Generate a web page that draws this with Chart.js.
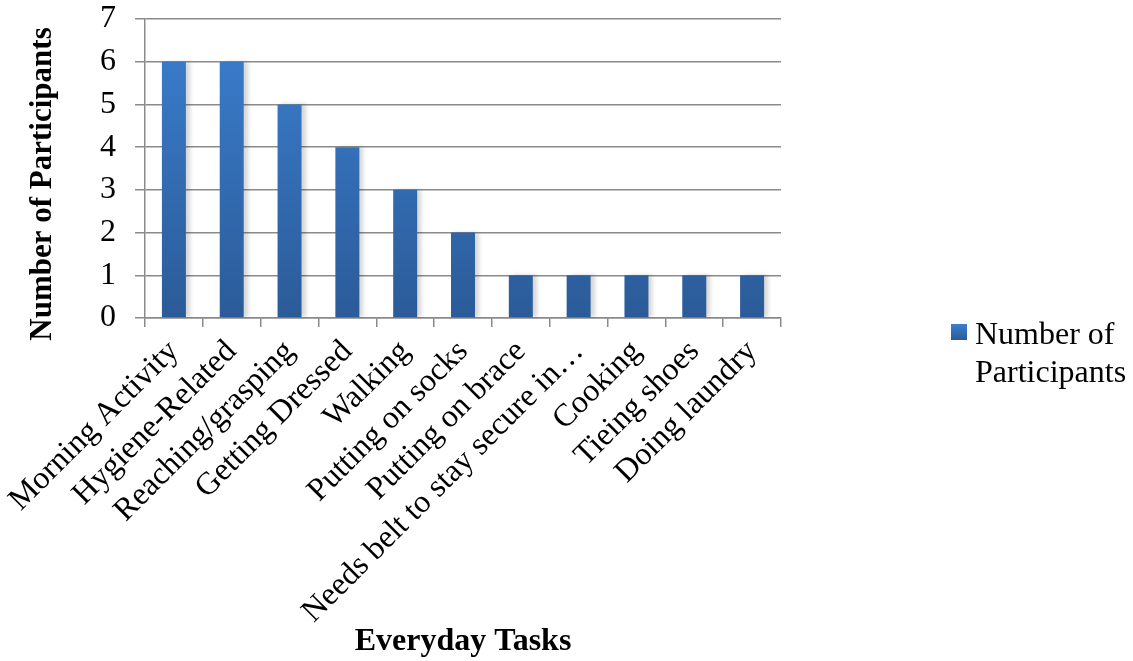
<!DOCTYPE html>
<html>
<head>
<meta charset="utf-8">
<script src="https://cdn.jsdelivr.net/npm/chart.js@4"></script>
<style>
  html, body { margin: 0; padding: 0; background: #fff; }
  #wrap { width: 1133px; height: 661px; position: relative; }
</style>
</head>
<body>
<div id="wrap"><canvas id="tasksChart" width="1133" height="661"></canvas></div>
<script>
// Data
const tasks = [
  'Morning Activity', 'Hygiene-Related', 'Reaching/grasping', 'Getting Dressed',
  'Walking', 'Putting on socks', 'Putting on brace', 'Needs belt to stay secure in…',
  'Cooking', 'Tieing shoes', 'Doing laundry'
];
const participants = [6, 6, 5, 4, 3, 2, 1, 1, 1, 1, 1];
const yTicks = [0, 1, 2, 3, 4, 5, 6, 7];
const yTitle = 'Number of Participants';

const serif = "'Liberation Serif', 'Times New Roman', serif";
const gridGray = '#8a8a8a';

// vertical blue gradient like the original bars
function barFill(context) {
  const area = context.chart.chartArea;
  if (!area) return '#3574c0';
  const g = context.chart.ctx.createLinearGradient(0, area.top, 0, area.bottom);
  g.addColorStop(0, '#3b7fd0');
  g.addColorStop(1, '#2b5b98');
  return g;
}

// soft shadow to the right of each bar
const barShadow = {
  id: 'barShadow',
  beforeDatasetsDraw(chart) {
    const c = chart.ctx;
    c.save();
    c.shadowColor = 'rgba(0,0,0,0.16)';
    c.shadowOffsetX = 4;
    c.shadowOffsetY = 0;
    c.shadowBlur = 4;
  },
  afterDatasetsDraw(chart) {
    chart.ctx.restore();
  }
};

// y title sits a bit lower than the plot centre in the original
const sideTitle = {
  id: 'sideTitle',
  afterDraw(chart) {
    const c = chart.ctx;
    c.save();
    c.translate(43, 184);
    c.rotate(-Math.PI / 2);
    c.fillStyle = '#000';
    c.font = 'bold 31px ' + serif;
    c.textAlign = 'center';
    c.textBaseline = 'middle';
    c.fillText(yTitle, 0, 0);
    c.restore();
  }
};

// two-line legend on the right, like the original
const sideLegend = {
  id: 'sideLegend',
  afterDraw(chart) {
    const c = chart.ctx;
    const ds = chart.data.datasets[0];
    const x = 951, y = 324;
    c.save();
    const g = c.createLinearGradient(0, y, 0, y + 16);
    g.addColorStop(0, '#3b7fd0');
    g.addColorStop(1, '#2b5b98');
    c.fillStyle = g;
    c.fillRect(x, y, 16, 16);
    c.fillStyle = '#000';
    c.font = '32px ' + serif;
    c.textBaseline = 'alphabetic';
    c.textAlign = 'left';
    const words = ds.label.split(' ');
    c.fillText(words.slice(0, 2).join(' '), 975, 344);
    c.fillText(words.slice(2).join(' '), 975, 382);
    c.restore();
  }
};

const ctx = document.getElementById('tasksChart').getContext('2d');

new Chart(ctx, {
  type: 'bar',
  data: {
    labels: tasks,
    datasets: [{
      label: 'Number of Participants',
      data: participants,
      backgroundColor: barFill,
      borderWidth: 0,
      barPercentage: 0.415,
      categoryPercentage: 1
    }]
  },
  options: {
    responsive: false,
    animation: false,
    layout: { padding: { top: 19, right: 352, bottom: 0, left: 0 } },
    scales: {
      x: {
        afterFit(scale) { scale.height = 343; },
        grid: {
          drawOnChartArea: false,
          drawTicks: true,
          tickLength: 9,
          color: gridGray,
          lineWidth: 1.5,
          offset: true
        },
        border: { color: gridGray, width: 1.5 },
        ticks: {
          autoSkip: false,
          minRotation: 45,
          maxRotation: 45,
          padding: 6,
          color: '#000',
          font: { family: serif, size: 32 }
        },
        title: {
          display: true,
          text: 'Everyday Tasks',
          color: '#000',
          padding: { top: 0, bottom: 0 },
          font: { family: serif, size: 32, weight: 'bold' }
        }
      },
      y: {
        min: 0,
        max: 7,
        afterFit(scale) {
          scale.width = 145;
          scale.paddingTop = 0;
          scale.paddingBottom = 0;
        },
        afterBuildTicks(scale) { scale.ticks = yTicks.map(v => ({ value: v })); },
        grid: {
          color: gridGray,
          lineWidth: 1.5,
          drawTicks: true,
          tickLength: 10
        },
        border: { color: gridGray, width: 1.5 },
        ticks: {
          autoSkip: false,
          stepSize: 1,
          padding: 19,
          color: '#000',
          font: { family: serif, size: 32 }
        },
        title: { display: false }
      }
    },
    plugins: {
      legend: { display: false },
      tooltip: { enabled: false }
    }
  },
  plugins: [barShadow, sideTitle, sideLegend]
});
</script>
</body>
</html>
